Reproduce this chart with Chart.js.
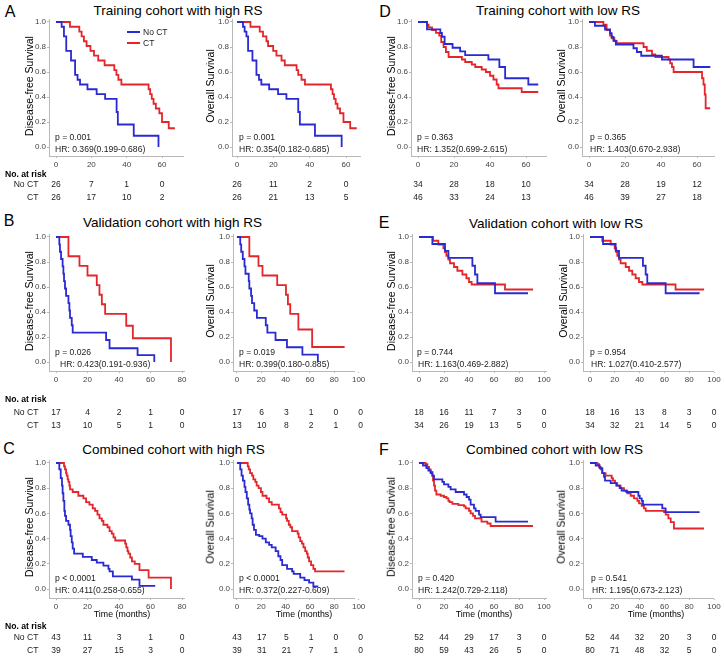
<!DOCTYPE html>
<html>
<head>
<meta charset="utf-8">
<script src="https://cdn.jsdelivr.net/npm/chart.js@4.4.0/dist/chart.umd.min.js"></script>
<style>
html, body { margin: 0; padding: 0; background: #fff; }
#fig { position: relative; width: 724px; height: 658px; overflow: hidden; font-family: Arial, "Liberation Sans", sans-serif; color: #000; }
#fig canvas { position: absolute; }
.t { position: absolute; white-space: nowrap; line-height: 1; }
</style>
</head>
<body>
<div id="fig"></div>
<script>

// DATA PART

var yTicks = [0, 0.2, 0.4, 0.6, 0.8, 1.0];
var ticks60 = [0, 20, 40, 60];
var ticks80 = [0, 20, 40, 60, 80];
var ticks100 = [0, 20, 40, 60, 80, 100];
var groups = ['No CT', 'CT'];

var titles = ['Training cohort with high RS', 'Validation cohort with high RS', 'Combined cohort with high RS',
              'Training cohort with low RS', 'Validation cohort with low RS', 'Combined cohort with low RS'];

// A : training cohort, high RS  -  [months, survival]
var aDfsNoCt = [[0,1],[3.2,0.962],[4.5,0.885],[5.8,0.769],[8.5,0.692],[10.8,0.577],[12.2,0.538],[13.6,0.5],[17.8,0.462],[23,0.423],[27.8,0.385],[34.3,0.28],[35,0.18],[44,0.09],[58,0]];
var aDfsCt = [[0,1],[7.9,0.962],[13.2,0.923],[14.5,0.885],[15.8,0.846],[17.3,0.808],[19.5,0.769],[21.5,0.731],[23.9,0.692],[27.5,0.654],[33,0.615],[34.2,0.577],[35.3,0.538],[37,0.5],[52.4,0.462],[53.3,0.423],[54.2,0.385],[55.2,0.346],[56.5,0.308],[58.5,0.27],[60,0.2],[63.8,0.15],[67.3,0.15]];
var aOsNoCt = [[0,1],[3.3,0.962],[4.2,0.923],[5.2,0.885],[6.1,0.769],[8.5,0.692],[10.7,0.577],[12.1,0.538],[13.4,0.5],[17.7,0.462],[22.6,0.423],[27.2,0.385],[33.7,0.28],[34.6,0.18],[42.9,0.09],[57.6,0]];
var aOsCt = [[0,1],[7.4,0.962],[12.5,0.923],[14.3,0.885],[16.2,0.846],[17.1,0.808],[19.9,0.769],[21.7,0.731],[24.5,0.692],[26.3,0.654],[32.8,0.615],[33.7,0.577],[35.5,0.538],[37.4,0.5],[51.7,0.462],[52.6,0.423],[53.4,0.385],[54.3,0.346],[55.3,0.308],[56.7,0.27],[58.6,0.2],[62.3,0.15],[65.9,0.15]];
var aDfsRiskNo = [26, 7, 1, 0];
var aDfsRiskCt = [26, 17, 10, 2];
var aOsRiskNo = [26, 11, 2, 0];
var aOsRiskCt = [26, 21, 13, 5];

// B : validation cohort, high RS
var bDfsNoCt = [[0,1],[2.1,0.941],[2.5,0.882],[3.2,0.824],[4.2,0.765],[4.7,0.706],[5.1,0.647],[5.7,0.588],[6.4,0.529],[7.9,0.471],[8.5,0.412],[8.9,0.353],[10,0.294],[10.6,0.235],[31.8,0.176],[34,0.11],[51.8,0.055],[62.4,0]];
var bDfsCt = [[0,1],[7.9,0.846],[14.9,0.769],[20,0.692],[25.9,0.615],[27.6,0.538],[29.1,0.462],[31.2,0.385],[44.6,0.29],[48.8,0.19],[73,0]];
var bOsNoCt = [[0,1],[2.7,0.941],[3.5,0.882],[4.8,0.824],[6.2,0.765],[7,0.706],[9.7,0.647],[10.2,0.588],[11.6,0.529],[12.4,0.471],[14.2,0.412],[16.4,0.353],[23.7,0.294],[25,0.235],[31.7,0.176],[41.1,0.118],[53.8,0.059],[66.5,0]];
var bOsCt = [[0,1],[10.2,0.846],[17.7,0.769],[21,0.692],[33.1,0.615],[40.3,0.538],[41.9,0.462],[43.8,0.385],[50.5,0.26],[61.8,0.12],[88.5,0.12]];
var bDfsRiskNo = [17, 4, 2, 1, 0];
var bDfsRiskCt = [13, 10, 5, 1, 0];
var bOsRiskNo = [17, 6, 3, 1, 0, 0];
var bOsRiskCt = [13, 10, 8, 2, 1, 0];

// C : combined cohort, high RS
var cDfsNoCt = [[0,1],[2.1,0.95],[3,0.88],[3.8,0.82],[4.2,0.76],[4.7,0.7],[5.3,0.62],[5.7,0.58],[6.4,0.54],[7.9,0.51],[8.9,0.47],[9.3,0.42],[10,0.37],[10.6,0.32],[11.5,0.28],[17,0.255],[22.7,0.23],[25.9,0.21],[30.1,0.185],[33.3,0.16],[34,0.14],[36.1,0.1],[48.2,0.075],[53,0.025],[63,0.025]];
var cDfsCt = [[0,1],[5.1,0.974],[5.7,0.95],[6.4,0.92],[6.8,0.9],[7.4,0.87],[7.9,0.85],[8.5,0.82],[8.9,0.79],[10.6,0.77],[14.2,0.74],[17.4,0.72],[19.1,0.69],[21.2,0.67],[23.3,0.64],[24.8,0.62],[26.3,0.59],[27.6,0.56],[29.1,0.54],[30.1,0.51],[32.7,0.49],[34,0.46],[35.4,0.44],[36.5,0.41],[37.6,0.385],[43.9,0.36],[44.6,0.33],[45.4,0.3],[46,0.28],[47.1,0.25],[48.2,0.22],[50,0.2],[53,0.15],[58.8,0.09],[73,0]];
var cOsNoCt = [[0,1],[2.7,0.95],[3.8,0.9],[4.9,0.86],[6.2,0.81],[7,0.77],[8.1,0.72],[9.2,0.67],[10.2,0.63],[10.8,0.6],[12.1,0.56],[12.9,0.51],[14,0.47],[15.6,0.43],[18.3,0.42],[21,0.4],[23.7,0.37],[26.4,0.35],[28.6,0.33],[31.8,0.3],[34,0.26],[35.8,0.23],[37.2,0.19],[41.2,0.16],[45.3,0.14],[46.6,0.12],[52,0.09],[55.5,0.07],[59.3,0.05],[62.8,0.02],[66.8,0.02]];
var cOsCt = [[0,1],[8.9,0.974],[9.7,0.95],[10.8,0.92],[12.4,0.9],[13.5,0.87],[15.1,0.85],[16.2,0.82],[17.8,0.8],[19.7,0.77],[21,0.74],[24.3,0.72],[26.4,0.69],[28.6,0.67],[34.5,0.64],[35.8,0.61],[37.2,0.59],[40.4,0.56],[41.2,0.54],[42.6,0.51],[43.9,0.49],[45.3,0.46],[49.9,0.44],[50.7,0.41],[52,0.38],[53.4,0.36],[54.7,0.33],[56.1,0.3],[57.4,0.28],[58.2,0.25],[59.3,0.22],[60.9,0.19],[62.8,0.16],[64.2,0.14],[88.4,0.14]];
var cDfsRiskNo = [43, 11, 3, 1, 0];
var cDfsRiskCt = [39, 27, 15, 3, 0];
var cOsRiskNo = [43, 17, 5, 1, 0, 0];
var cOsRiskCt = [39, 31, 21, 7, 1, 0];

// D : training cohort, low RS
var dDfsNoCt = [[0,1],[5,0.941],[12.4,0.912],[13.3,0.882],[14.8,0.824],[19.2,0.794],[23.4,0.765],[26.2,0.735],[39.1,0.7],[45.2,0.64],[48.4,0.55],[61.3,0.5],[66.8,0.5]];
var dDfsCt = [[0,1],[5,0.978],[5.9,0.957],[7.8,0.935],[10,0.913],[11.8,0.891],[12.9,0.84],[14.2,0.8],[15.5,0.76],[17,0.72],[24.4,0.7],[26.2,0.68],[29.9,0.66],[31.8,0.64],[35.4,0.62],[37.7,0.6],[40,0.57],[41.9,0.54],[43.7,0.5],[44.7,0.47],[57.6,0.44],[66.8,0.44]];
var dOsNoCt = [[0,1],[3.3,0.97],[8.9,0.94],[11.7,0.91],[12.6,0.88],[13.6,0.85],[14.9,0.82],[24.7,0.79],[26.6,0.76],[29,0.73],[40.5,0.7],[58.1,0.64],[67.4,0.64]];
var dOsCt = [[0,1],[8,0.978],[9.8,0.935],[11.7,0.891],[12.6,0.87],[14.1,0.848],[15.4,0.83],[30.3,0.8],[32.1,0.77],[35,0.74],[36.8,0.72],[44.2,0.7],[45.1,0.67],[46.1,0.64],[47,0.6],[62.8,0.55],[63.6,0.5],[64.3,0.42],[64.8,0.31],[67.3,0.31]];
var dDfsRiskNo = [34, 28, 18, 10];
var dDfsRiskCt = [46, 33, 24, 13];
var dOsRiskNo = [34, 28, 19, 12];
var dOsRiskCt = [46, 39, 27, 18];

// E : validation cohort, low RS
var eDfsNoCt = [[0,1],[10.7,0.944],[20.8,0.889],[23.5,0.833],[42.7,0.77],[44.8,0.7],[46.7,0.63],[60.8,0.55],[87.2,0.55]];
var eDfsCt = [[0,1],[11.2,0.97],[15.5,0.94],[19.5,0.91],[20.8,0.88],[21.9,0.85],[23.5,0.82],[24.8,0.79],[28,0.76],[30.7,0.73],[34.7,0.7],[37.9,0.67],[40,0.64],[42.1,0.62],[68.8,0.58],[91.2,0.58]];
var eOsNoCt = [[0,1],[10.5,0.944],[20.7,0.889],[23.4,0.833],[42.7,0.77],[44.9,0.7],[46.2,0.63],[61,0.55],[88.4,0.55]];
var eOsCt = [[0,1],[9.9,0.97],[16.7,0.94],[19.9,0.91],[21.2,0.88],[22,0.85],[23.4,0.82],[24.7,0.79],[28.8,0.76],[31.5,0.73],[34.1,0.7],[36.8,0.67],[39.5,0.64],[42.2,0.62],[69,0.58],[92,0.58]];
var eDfsRiskNo = [18, 16, 11, 7, 3, 0];
var eDfsRiskCt = [34, 26, 19, 13, 5, 0];
var eOsRiskNo = [18, 16, 13, 8, 3, 0];
var eOsRiskCt = [34, 32, 21, 14, 5, 0];

// F : combined cohort, low RS
var fDfsNoCt = [[0,1],[3.2,0.98],[5.9,0.96],[7.5,0.94],[9.3,0.92],[10.7,0.9],[12,0.87],[18.7,0.85],[20,0.83],[23.5,0.81],[25.3,0.79],[29.3,0.77],[36,0.75],[38.1,0.73],[40,0.71],[41.3,0.67],[44,0.64],[45.3,0.62],[48,0.59],[49.3,0.57],[61.3,0.535],[87.2,0.535]];
var fDfsCt = [[0,1],[5.3,0.99],[6.7,0.97],[8,0.95],[9.3,0.93],[10.7,0.9],[11.2,0.86],[12,0.82],[12.8,0.78],[13.9,0.75],[17.3,0.74],[20,0.73],[22,0.72],[23.5,0.7],[24.5,0.69],[26.7,0.675],[31.5,0.665],[36,0.655],[37.3,0.64],[40,0.62],[41.3,0.6],[43.2,0.58],[44.8,0.56],[50,0.535],[54.7,0.52],[57.3,0.5],[91.2,0.5]];
var fOsNoCt = [[0,1],[4.6,0.98],[7.8,0.96],[9.9,0.92],[11.3,0.89],[12.1,0.86],[16.7,0.84],[21.2,0.82],[23.9,0.8],[25.5,0.78],[29.3,0.77],[39,0.74],[40.1,0.72],[41.7,0.7],[42.7,0.67],[58.3,0.64],[61,0.61],[88.4,0.61]];
var fOsCt = [[0,1],[5.9,0.99],[7.3,0.97],[8.6,0.95],[9.9,0.92],[12.6,0.9],[17.5,0.88],[18.5,0.86],[20.2,0.84],[22,0.82],[24.7,0.8],[27.4,0.78],[30.1,0.76],[32.8,0.74],[35.5,0.72],[38.2,0.7],[39.5,0.68],[41.7,0.66],[43.5,0.64],[44.9,0.62],[59.7,0.61],[61,0.59],[63.2,0.56],[65.1,0.53],[67.7,0.48],[91.9,0.48]];
var fDfsRiskNo = [52, 44, 29, 17, 3, 0];
var fDfsRiskCt = [80, 59, 43, 26, 5, 0];
var fOsRiskNo = [52, 44, 32, 20, 3, 0];
var fOsRiskCt = [80, 71, 48, 32, 5, 0];

// stats
var pVals = ['p = 0.001', 'p = 0.001', 'p = 0.363', 'p = 0.365',
             'p = 0.026', 'p = 0.019', 'p = 0.744', 'p = 0.954',
             'p < 0.0001', 'p < 0.0001', 'p = 0.420', 'p = 0.541'];
var hrVals = ['HR: 0.369(0.199-0.686)', 'HR: 0.354(0.182-0.685)', 'HR: 1.352(0.699-2.615)', 'HR: 1.403(0.670-2.938)',
              'HR: 0.423(0.191-0.936)', 'HR: 0.399(0.180-0.885)', 'HR: 1.163(0.469-2.882)', 'HR: 1.027(0.410-2.577)',
              'HR: 0.411(0.258-0.655)', 'HR: 0.372(0.227-0.609)', 'HR: 1.242(0.729-2.118)', 'HR: 1.195(0.673-2.123)'];

// LAYOUT PART

var fig = document.getElementById('fig');
var FONT = 'Arial, "Liberation Sans", sans-serif';
var BLUE = '#2a2ad2';
var RED = '#e3262b';
var AXIS = '#b8b8b8';

var rows = [
    {top: 19, s1: 22, s0: 147, bottom: 156, pY: 137, hrY: 149, head: 174, rNo: 184, rCt: 197},
    {top: 234, s1: 237, s0: 362, bottom: 371, pY: 352, hrY: 364, head: 399, rNo: 412, rCt: 425},
    {top: 460, s1: 463, s0: 589, bottom: 598, pY: 578, hrY: 590, head: 626, rNo: 637, rCt: 650}
];

var panels = [
    {row: 0, x0: 56, ppu: 1.767, xmin: -3.8, xmax: 72, ticks: ticks60, yt: 'Disease-free Survival', ytX: 29, pX: 55, hrX: 55, no: aDfsNoCt, ct: aDfsCt, riskNo: aDfsRiskNo, riskCt: aDfsRiskCt},
    {row: 0, x0: 237, ppu: 1.817, xmin: -3, xmax: 67.5, ticks: ticks60, yt: 'Overall Survival', ytX: 210, pX: 239, hrX: 239, no: aOsNoCt, ct: aOsCt, riskNo: aOsRiskNo, riskCt: aOsRiskCt},
    {row: 0, x0: 418, ppu: 1.8, xmin: -3.8, xmax: 71, ticks: ticks60, yt: 'Disease-free Survival', ytX: 391, pX: 417, hrX: 417, no: dDfsNoCt, ct: dDfsCt, riskNo: dDfsRiskNo, riskCt: dDfsRiskCt},
    {row: 0, x0: 589, ppu: 1.8, xmin: -3.8, xmax: 69.5, ticks: ticks60, yt: 'Overall Survival', ytX: 561, pX: 590, hrX: 590, no: dOsNoCt, ct: dOsCt, riskNo: dOsRiskNo, riskCt: dOsRiskCt},

    {row: 1, x0: 56, ppu: 1.575, xmin: -4.4, xmax: 81, ticks: ticks80, yt: 'Disease-free Survival', ytX: 29, pX: 55, hrX: 60, no: bDfsNoCt, ct: bDfsCt, riskNo: bDfsRiskNo, riskCt: bDfsRiskCt},
    {row: 1, x0: 237, ppu: 1.237, xmin: -3.5, xmax: 97, ticks: ticks100, yt: 'Overall Survival', ytX: 210, pX: 239, hrX: 239, no: bOsNoCt, ct: bOsCt, riskNo: bOsRiskNo, riskCt: bOsRiskCt},
    {row: 1, x0: 419, ppu: 1.25, xmin: -5.5, xmax: 101.5, ticks: ticks100, yt: 'Disease-free Survival', ytX: 391, pX: 417, hrX: 418, no: eDfsNoCt, ct: eDfsCt, riskNo: eDfsRiskNo, riskCt: eDfsRiskCt},
    {row: 1, x0: 590, ppu: 1.24, xmin: -5.5, xmax: 99.5, ticks: ticks100, yt: 'Overall Survival', ytX: 563, pX: 590, hrX: 591, no: eOsNoCt, ct: eOsCt, riskNo: eOsRiskNo, riskCt: eOsRiskCt},

    {row: 2, x0: 56, ppu: 1.575, xmin: -4.4, xmax: 81, ticks: ticks80, yt: 'Disease-free Survival', ytX: 29, pX: 55, hrX: 55, no: cDfsNoCt, ct: cDfsCt, riskNo: cDfsRiskNo, riskCt: cDfsRiskCt, xt: 122},
    {row: 2, x0: 237, ppu: 1.237, xmin: -3.5, xmax: 97, ticks: ticks100, yt: 'Overall Survival', ytX: 210, pX: 239, hrX: 239, no: cOsNoCt, ct: cOsCt, riskNo: cOsRiskNo, riskCt: cOsRiskCt, xt: 304},
    {row: 2, x0: 419, ppu: 1.25, xmin: -5.5, xmax: 101.5, ticks: ticks100, yt: 'Disease-free Survival', ytX: 391, pX: 418, hrX: 418, no: fDfsNoCt, ct: fDfsCt, riskNo: fDfsRiskNo, riskCt: fDfsRiskCt, xt: 484},
    {row: 2, x0: 590, ppu: 1.24, xmin: -5.5, xmax: 99.5, ticks: ticks100, yt: 'Overall Survival', ytX: 561, pX: 591, hrX: 592, no: fOsNoCt, ct: fOsCt, riskNo: fOsRiskNo, riskCt: fOsRiskCt, xt: 656}
];

var headers = [
    {letter: 'A', lx: 10, ly: 11.5, tx: 178, ty: 11},
    {letter: 'B', lx: 9, ly: 221, tx: 172.5, ty: 223},
    {letter: 'C', lx: 9, ly: 449, tx: 173.5, ty: 450},
    {letter: 'D', lx: 385, ly: 11.5, tx: 558, ty: 11},
    {letter: 'E', lx: 384, ly: 222.5, tx: 556, ty: 224},
    {letter: 'F', lx: 384, ly: 449.5, tx: 554.5, ty: 450}
];

// FUNCTION PART

function text(x, y, s, size, align, opts) {
    opts = opts || {};
    var d = document.createElement('div');
    d.className = 't';
    d.textContent = s;
    d.style.left = x + 'px';
    d.style.top = y + 'px';
    d.style.fontSize = size + 'px';
    if (opts.color) d.style.color = opts.color;
    if (opts.bold) d.style.fontWeight = 'bold';
    var tx = align === 'left' ? '0' : (align === 'right' ? '-100%' : '-50%');
    d.style.transform = 'translate(' + tx + ',-50%)' + (opts.rotate ? ' rotate(-90deg)' : '');
    fig.appendChild(d);
}

function swatch(x, y, w, color) {
    var d = document.createElement('div');
    d.style.position = 'absolute';
    d.style.left = x + 'px';
    d.style.top = (y - 1) + 'px';
    d.style.width = w + 'px';
    d.style.height = '2px';
    d.style.background = color;
    fig.appendChild(d);
}

function toXY(arr) {
    return arr.map(function (d) { return {x: d[0], y: d[1]}; });
}

function drawPanel(p, i) {
    var r = rows[p.row];
    var YW = 30, XH = 16, PT = 8, PR = 10;
    var ppuY = r.s0 - r.s1;
    var areaLeft = Math.round(p.x0 + p.xmin * p.ppu);
    var areaRight = Math.round(p.x0 + p.xmax * p.ppu);
    var xmin = (areaLeft - p.x0) / p.ppu;
    var xmax = (areaRight - p.x0) / p.ppu;
    var ymax = 1 + (r.s1 - r.top) / ppuY;
    var ymin = -(r.bottom - r.s0) / ppuY;
    var cw = YW + (areaRight - areaLeft) + PR;
    var ch = PT + (r.bottom - r.top) + XH;

    var canvas = document.createElement('canvas');
    canvas.width = cw;
    canvas.height = ch;
    canvas.style.left = (areaLeft - YW) + 'px';
    canvas.style.top = (r.top - PT) + 'px';
    canvas.style.width = cw + 'px';
    canvas.style.height = ch + 'px';
    fig.appendChild(canvas);

    var tickFont = {family: FONT, size: 8};

    new Chart(canvas.getContext('2d'), {
        type: 'line',
        data: {
            datasets: [
                {label: groups[0], data: toXY(p.no), borderColor: BLUE, borderWidth: 1.8, pointRadius: 0, stepped: true, fill: false},
                {label: groups[1], data: toXY(p.ct), borderColor: RED, borderWidth: 1.8, pointRadius: 0, stepped: true, fill: false}
            ]
        },
        options: {
            responsive: false,
            animation: false,
            events: [],
            layout: {padding: {top: PT, right: PR, bottom: 0, left: 0}},
            plugins: {legend: {display: false}, tooltip: {enabled: false}},
            scales: {
                x: {
                    type: 'linear',
                    min: xmin,
                    max: xmax,
                    afterBuildTicks: function (s) { s.ticks = p.ticks.map(function (v) { return {value: v}; }); },
                    afterFit: function (s) { s.height = XH; },
                    ticks: {font: tickFont, color: '#444', padding: 2, maxRotation: 0, autoSkip: false},
                    grid: {drawOnChartArea: false, drawTicks: true, tickLength: 2, color: AXIS},
                    border: {color: AXIS, width: 1}
                },
                y: {
                    type: 'linear',
                    min: ymin,
                    max: ymax,
                    afterBuildTicks: function (s) { s.ticks = yTicks.map(function (v) { return {value: v}; }); },
                    afterFit: function (s) { s.width = YW; },
                    ticks: {font: tickFont, color: '#444', padding: 1, callback: function (v) { return v.toFixed(1); }},
                    grid: {drawOnChartArea: false, drawTicks: true, tickLength: 2, color: AXIS},
                    border: {color: AXIS, width: 1}
                }
            }
        }
    });

    // axis titles
    text(p.ytX, (r.s1 + r.s0) / 2 + 1, p.yt, 10.5, 'center', {rotate: true});
    if (p.xt) text(p.xt, 614, 'Time (months)', 8.8, 'center');

    // p value and hazard ratio
    text(p.pX, r.pY, pVals[i], 8.6, 'left', {color: '#222'});
    text(p.hrX, r.hrY, hrVals[i], 8.6, 'left', {color: '#222'});

    // number at risk
    p.ticks.forEach(function (t, k) {
        var x = p.x0 + t * p.ppu;
        text(x, r.rNo, String(p.riskNo[k]), 8.5, 'center', {color: '#222'});
        text(x, r.rCt, String(p.riskCt[k]), 8.5, 'center', {color: '#222'});
    });
}

window.onload = function () {
    headers.forEach(function (h, k) {
        text(h.lx, h.ly, h.letter, 16, 'center');
        text(h.tx, h.ty, titles[k], 13.5, 'center');
    });

    panels.forEach(drawPanel);

    rows.forEach(function (r) {
        text(5, r.head, 'No. at risk', 8.6, 'left', {bold: true});
        text(38.5, r.rNo, groups[0], 8.6, 'right', {color: '#222'});
        text(38.5, r.rCt, groups[1], 8.6, 'right', {color: '#222'});
    });

    // legend (panel A only)
    swatch(127, 32, 13, BLUE);
    swatch(127, 43, 13, RED);
    text(143, 32, groups[0], 8.5, 'left', {color: '#222'});
    text(143, 43, groups[1], 8.5, 'left', {color: '#222'});
};

</script>
</body>
</html>
